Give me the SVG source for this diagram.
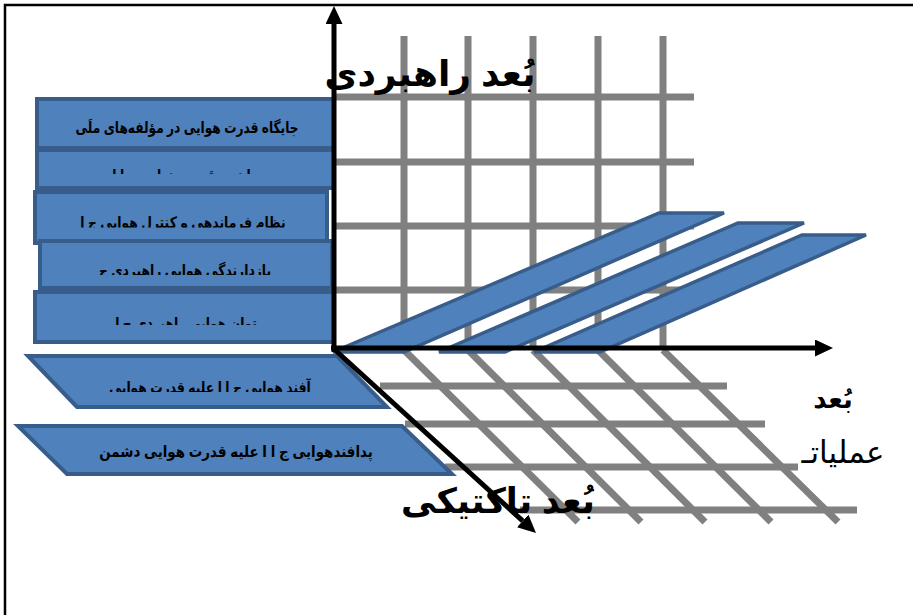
<svg xmlns="http://www.w3.org/2000/svg" width="913" height="615" viewBox="0 0 913 615">
<defs>
<style>
.grid line{stroke:#808080;stroke-width:7;stroke-linecap:butt}
.box{fill:#4F81BD;stroke:#385D8A;stroke-width:4}
.band{fill:#4F81BD;stroke:#385D8A;stroke-width:3.5;stroke-linejoin:miter}
.axis{stroke:#000;stroke-width:5;fill:none}
.bt{font-family:"Liberation Sans","DejaVu Sans",sans-serif;font-size:14px;font-weight:bold;fill:#000;text-anchor:middle}
.lbl{font-family:"Liberation Sans","DejaVu Sans",sans-serif;fill:#000;text-anchor:middle}
</style>
<marker id="arr" markerUnits="userSpaceOnUse" markerWidth="18" markerHeight="17" refX="0" refY="8.5" orient="auto">
<path d="M0,0 L18,8.5 L0,17 z" fill="#000"/>
</marker>
<clipPath id="c2"><rect x="30" y="150" width="300" height="24"/></clipPath>
<clipPath id="c3"><rect x="30" y="195" width="300" height="32.5"/></clipPath>
<clipPath id="c4"><rect x="30" y="245" width="300" height="30"/></clipPath>
<clipPath id="c5"><rect x="30" y="295" width="300" height="30"/></clipPath>
<clipPath id="c6"><rect x="30" y="360" width="350" height="32"/></clipPath>
</defs>
<rect width="913" height="615" fill="#fff"/>
<path d="M5,615 L5,5 L913,5" stroke="#000" stroke-width="2.5" fill="none"/>

<g id="grid" class="grid">
<line x1="404" y1="36" x2="404" y2="350"/>
<line x1="468" y1="36" x2="468" y2="350"/>
<line x1="533" y1="36" x2="533" y2="350"/>
<line x1="598" y1="36" x2="598" y2="350"/>
<line x1="663" y1="36" x2="663" y2="350"/>
<line x1="334" y1="97" x2="694" y2="97"/>
<line x1="334" y1="162" x2="694" y2="162"/>
<line x1="334" y1="226" x2="694" y2="226"/>
<line x1="334" y1="290" x2="694" y2="290"/>
<line x1="380" y1="386" x2="727" y2="386"/>
<line x1="405" y1="424" x2="765" y2="424"/>
<line x1="445" y1="467" x2="798" y2="467"/>
<line x1="520" y1="510" x2="857" y2="510"/>
<line x1="404" y1="350" x2="578" y2="522"/>
<line x1="468" y1="350" x2="641" y2="522"/>
<line x1="533" y1="350" x2="705" y2="522"/>
<line x1="598" y1="350" x2="771" y2="522"/>
<line x1="663" y1="350" x2="838" y2="522"/>
</g>

<g id="band1"><polygon class="band" points="333,352 404,352 724,213 659,213"/></g>
<g id="band2"><polygon class="band" points="439,352 505,352 804,223 738,223"/></g>
<g id="band3"><polygon class="band" points="534,352 600,352 866,235 802,235"/></g>

<g id="box1"><rect class="box" x="37" y="99" width="297" height="49"/>
<text class="bt" transform="translate(187,133) scale(0.87,1.12)">جایگاه قدرت هوایی در مؤلفه‌های ملَی</text></g>
<g id="box2"><rect class="box" x="37" y="150" width="297" height="38"/>
<g clip-path="url(#c2)"><text class="bt" transform="translate(185,181) scale(0.88,1.12)">راهبرد قدرت هوایی ج ا ا</text></g></g>
<g id="box3"><rect class="box" x="35" y="192" width="292" height="51"/>
<g clip-path="url(#c3)"><text class="bt" transform="translate(183,228) scale(0.88,1.12)">نظام فرماندهی و کنترل هوایی ج ا</text></g></g>
<g id="box4"><rect class="box" x="40" y="241" width="292" height="47"/>
<g clip-path="url(#c4)"><text class="bt" transform="translate(185,276) scale(0.88,1.12)">بازدارندگی هوایی راهبردی ج</text></g></g>
<g id="box5"><rect class="box" x="35" y="292" width="299" height="50"/>
<g clip-path="url(#c5)"><text class="bt" transform="translate(186,329) scale(0.88,1.12)">توان هوایی راهبردی ج ا</text></g></g>
<g id="box6"><polygon class="box" points="28,356 337,356 387,407 77,407"/>
<g clip-path="url(#c6)"><text class="bt" transform="translate(210,393) scale(0.88,1.12)">آفند هوایی ج ا ا علیه قدرت هوایی</text></g></g>
<g id="box7"><polygon class="box" points="18,426 402,426 452,474 67,474"/>
<text class="bt" transform="translate(236,457) scale(0.96,1.12)" font-size="14.5">پدافندهوایی ج ا ا علیه قدرت هوایی دشمن</text></g>

<g id="connectors">
<line class="axis" x1="334" y1="352" x2="334" y2="24" marker-end="url(#arr)"/>
<line class="axis" x1="331" y1="348" x2="815" y2="348" marker-end="url(#arr)"/>
<line class="axis" x1="334" y1="349" x2="522.7" y2="520.9" marker-end="url(#arr)"/>
</g>

<g id="labels">
<text class="lbl" x="430" y="86" font-size="36" font-weight="bold">بُعد راهبردی</text>
<text class="lbl" x="833" y="408" font-size="26" font-weight="bold">بُعد</text>
<text class="lbl" x="843" y="463" font-size="31">عملیاتـ</text>
<text class="lbl" x="498" y="513" font-size="35" font-weight="bold">بُعد تاکتیکی</text>
</g>
</svg>
